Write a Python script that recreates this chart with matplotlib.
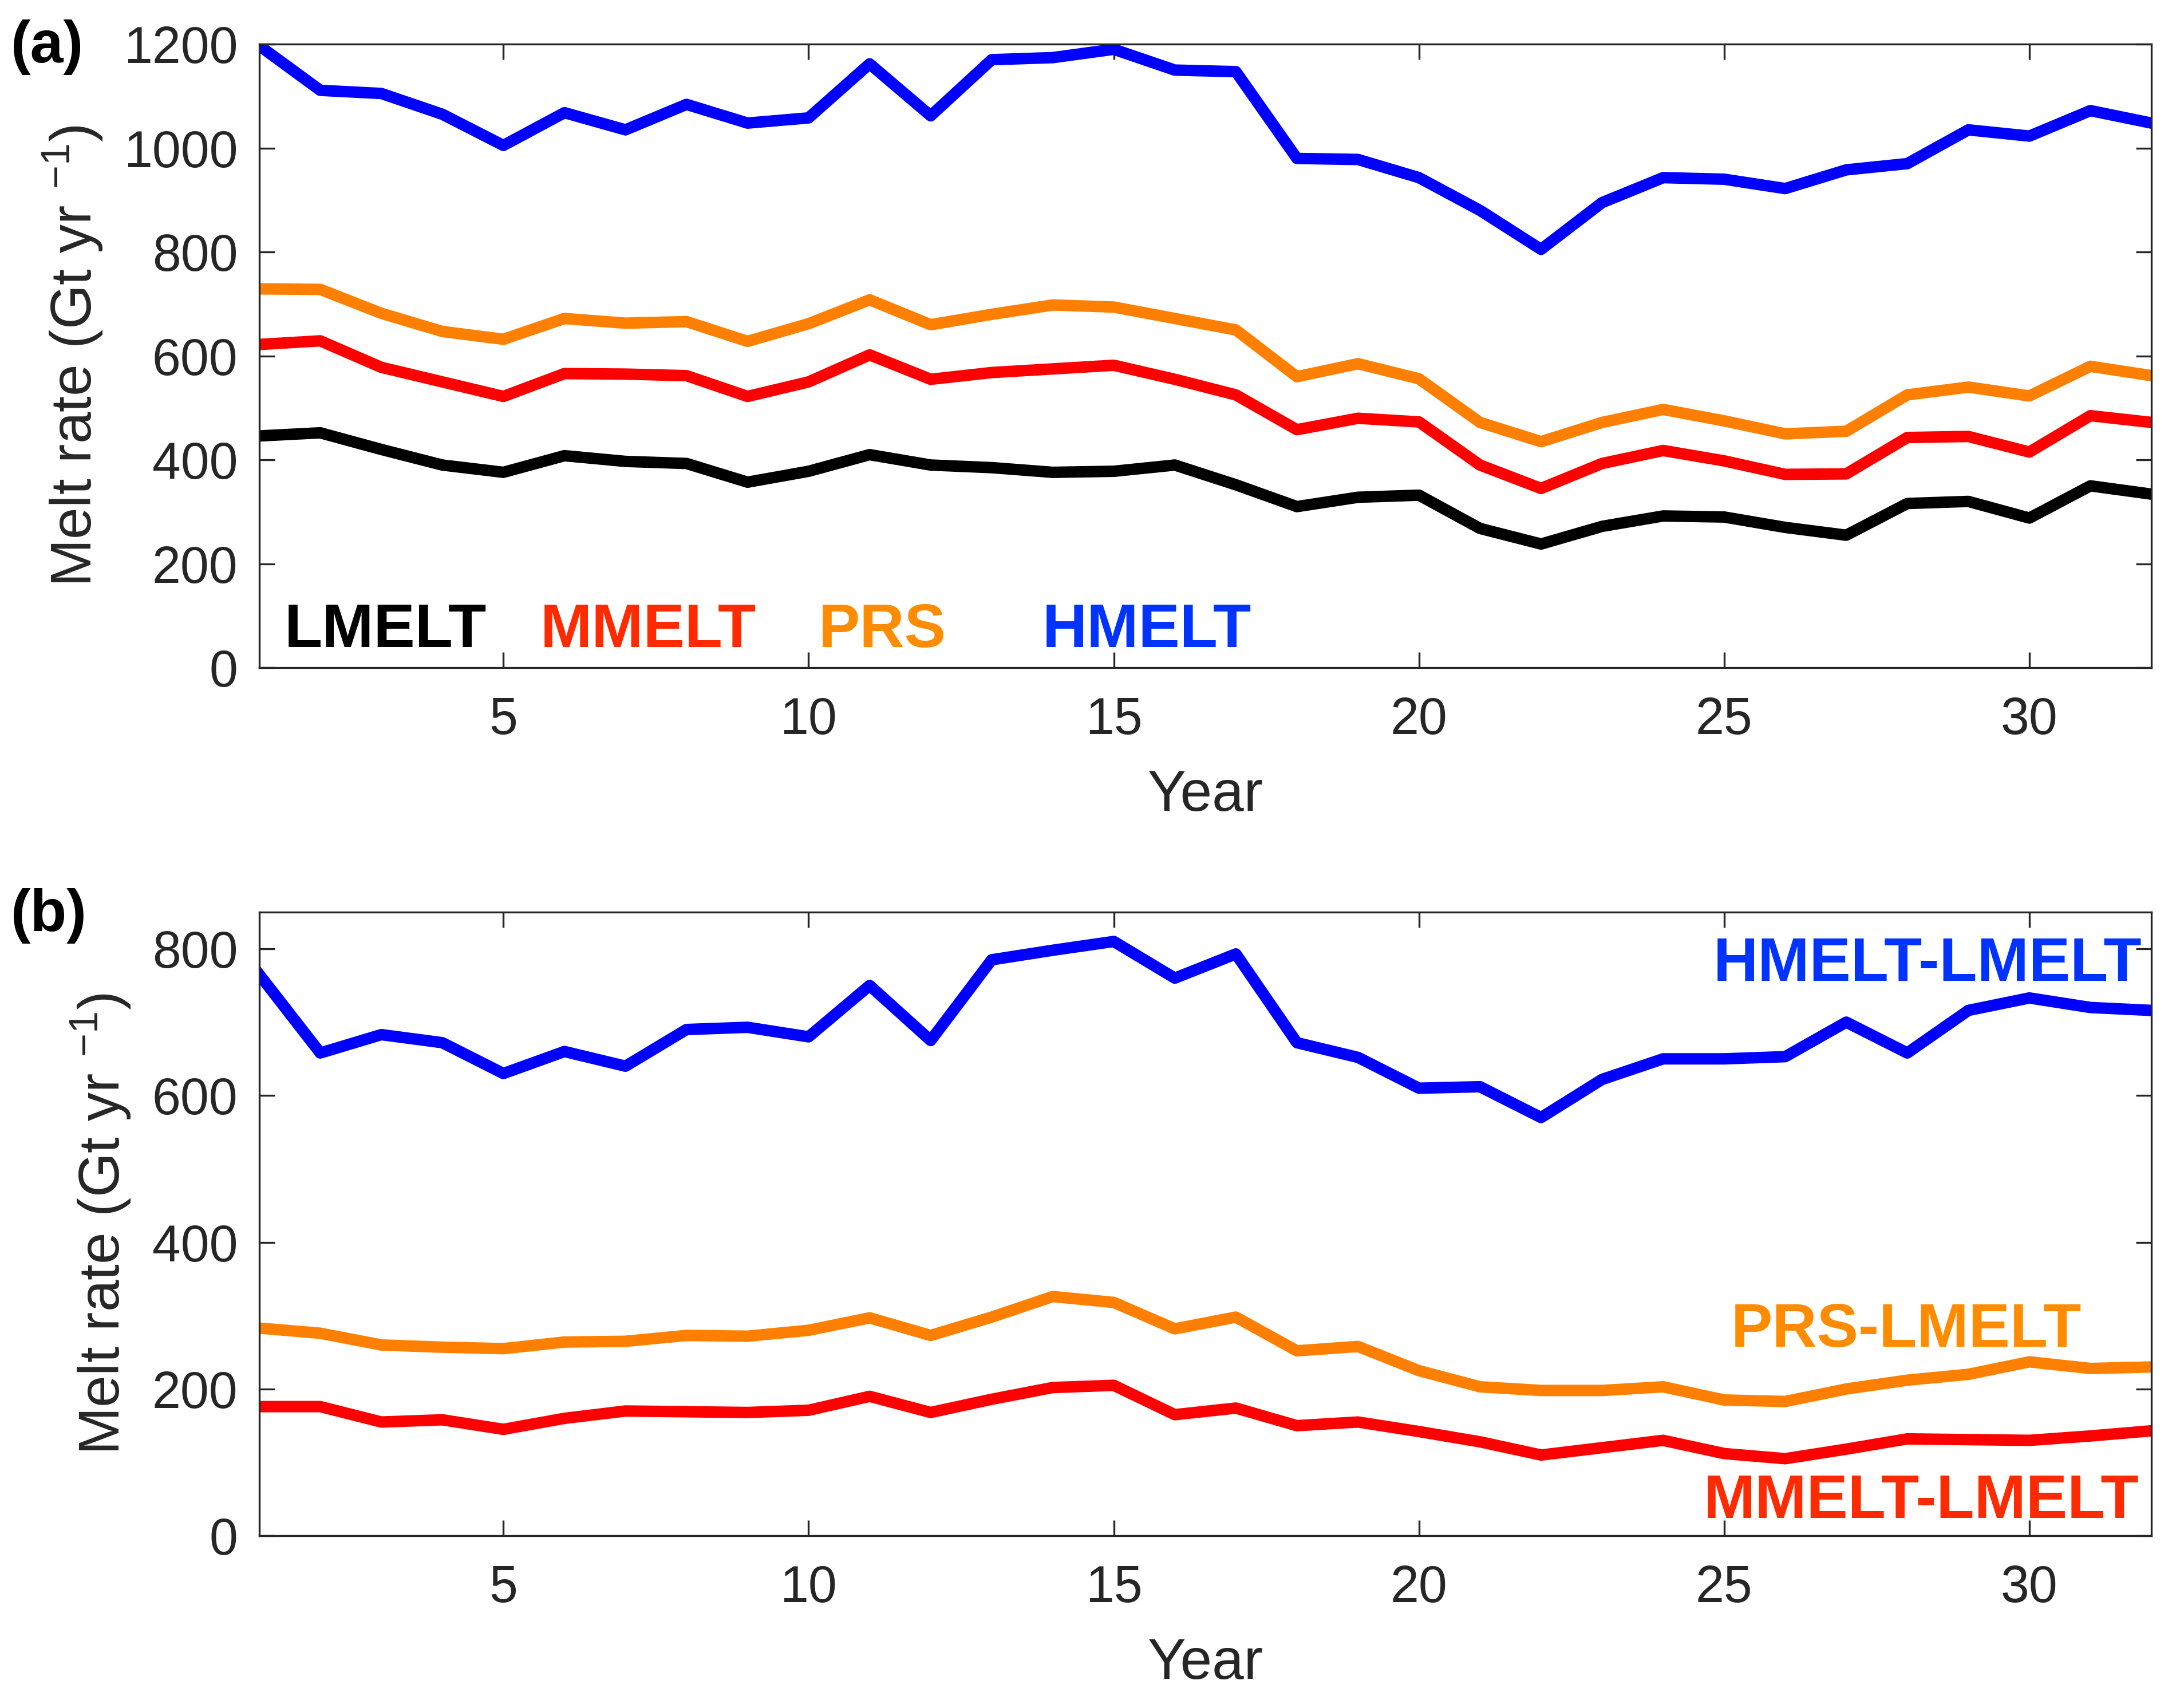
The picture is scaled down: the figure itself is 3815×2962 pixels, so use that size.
import matplotlib
matplotlib.use("Agg")
import matplotlib.pyplot as plt

plt.rcParams["font.family"] = ["Liberation Sans", "DejaVu Sans"]
plt.rcParams["mathtext.fontset"] = "custom"
plt.rcParams["mathtext.rm"] = "Liberation Sans"
plt.rcParams["mathtext.it"] = "Liberation Sans"

years = list(range(1, 33))

# panel (a): melt rate per experiment (Gt/yr)
lmelt = [446, 452, 420, 390, 376, 408, 397, 393, 357, 378, 410, 390, 385, 376, 378, 390,
         352, 310, 328, 332, 268, 238, 272, 292, 290, 270, 255, 316, 320, 288, 350, 334]
mmelt = [622, 629, 578, 550, 522, 566, 565, 562, 522, 550, 602, 555, 568, 575, 582, 555,
         525, 458, 480, 473, 390, 345, 393, 418, 398, 372, 373, 443, 445, 415, 485, 472]
prs = [729, 728, 682, 647, 632, 672, 663, 666, 628, 662, 708, 660, 680, 698, 694, 672,
       650, 560, 585, 556, 472, 435, 472, 497, 475, 450, 455, 525, 540, 523, 580, 562]
hmelt = [1197, 1111, 1105, 1065, 1005, 1068, 1035, 1084, 1048, 1058, 1162, 1062, 1170, 1174, 1190, 1150,
         1147, 980, 978, 943, 880, 805, 895, 943, 940, 922, 958, 970, 1035, 1023, 1072, 1048]

# panel (b): differences relative to LMELT
hmelt_minus = [765, 658, 683, 672, 630, 660, 640, 690, 693, 680, 750, 675, 785, 798, 810, 760,
               793, 672, 652, 610, 612, 570, 622, 650, 650, 653, 700, 658, 716, 733, 720, 716]
prs_minus = [283, 276, 260, 257, 255, 264, 265, 273, 272, 280, 297, 273, 298, 326, 318, 282,
             298, 252, 258, 225, 203, 198, 198, 203, 185, 183, 200, 212, 220, 237, 228, 230]
mmelt_minus = [176, 176, 155, 158, 145, 160, 170, 169, 168, 171, 190, 168, 186, 202, 205, 165,
               174, 150, 155, 142, 128, 110, 120, 130, 112, 105, 118, 132, 131, 130, 136, 143]

BLUE = "#0000ff"
RED = "#ff0000"
ORANGE = "#ff8000"
BLACK = "#000000"
AXC = "#262626"
LW = 4.8

fig = plt.figure(figsize=(3815 / 300, 2962 / 300), dpi=300)
ax1 = fig.add_axes([0.1187, 0.6063, 0.8664, 0.3677])
ax2 = fig.add_axes([0.1187, 0.0945, 0.8664, 0.3677])


def style(ax, ylim, yticks):
    ax.set_xlim(1, 32)
    ax.set_ylim(*ylim)
    ax.set_xticks([5, 10, 15, 20, 25, 30])
    ax.set_yticks(yticks)
    ax.tick_params(direction="in", length=6.5, width=0.8, top=True, right=True,
                   labelsize=21.5, colors=AXC, pad=12)
    ax.tick_params(axis="y", pad=9)
    for s in ax.spines.values():
        s.set_linewidth(0.8)
        s.set_color(AXC)
    ax.set_xlabel("Year", fontsize=24, color=AXC, labelpad=10)
    ax.set_ylabel("Melt rate (Gt yr $^{-1}$)", fontsize=24, color=AXC, labelpad=8)


ax1.plot(years, lmelt, color=BLACK, lw=LW)
ax1.plot(years, mmelt, color=RED, lw=LW)
ax1.plot(years, prs, color=ORANGE, lw=LW)
ax1.plot(years, hmelt, color=BLUE, lw=LW)
style(ax1, (0, 1200), range(0, 1201, 200))

lab = dict(fontsize=26, fontweight="bold", va="baseline")
ax1.text(1.41, 40, "LMELT", color=BLACK, **lab)
ax1.text(5.6, 40, "MMELT", color="#ff2a00", **lab)
ax1.text(10.16, 40, "PRS", color="#ff8c00", **lab)
ax1.text(13.83, 40, "HMELT", color="#0033ff", **lab)

ax2.plot(years, hmelt_minus, color=BLUE, lw=LW)
ax2.plot(years, prs_minus, color=ORANGE, lw=LW)
ax2.plot(years, mmelt_minus, color=RED, lw=LW)
style(ax2, (0, 850), range(0, 801, 200))

ax2.text(31.84, 756, "HMELT-LMELT", color="#0033ff", ha="right", **lab)
ax2.text(30.86, 258, "PRS-LMELT", color="#ff8c00", ha="right", **lab)
ax2.text(31.8, 24, "MMELT-LMELT", color="#ff2a00", ha="right", **lab)

fig.text(0.005, 0.972, "(a)", fontsize=25, fontweight="bold", va="center")
fig.text(0.005, 0.460, "(b)", fontsize=25, fontweight="bold", va="center")

fig.savefig("out.png", dpi=300)
